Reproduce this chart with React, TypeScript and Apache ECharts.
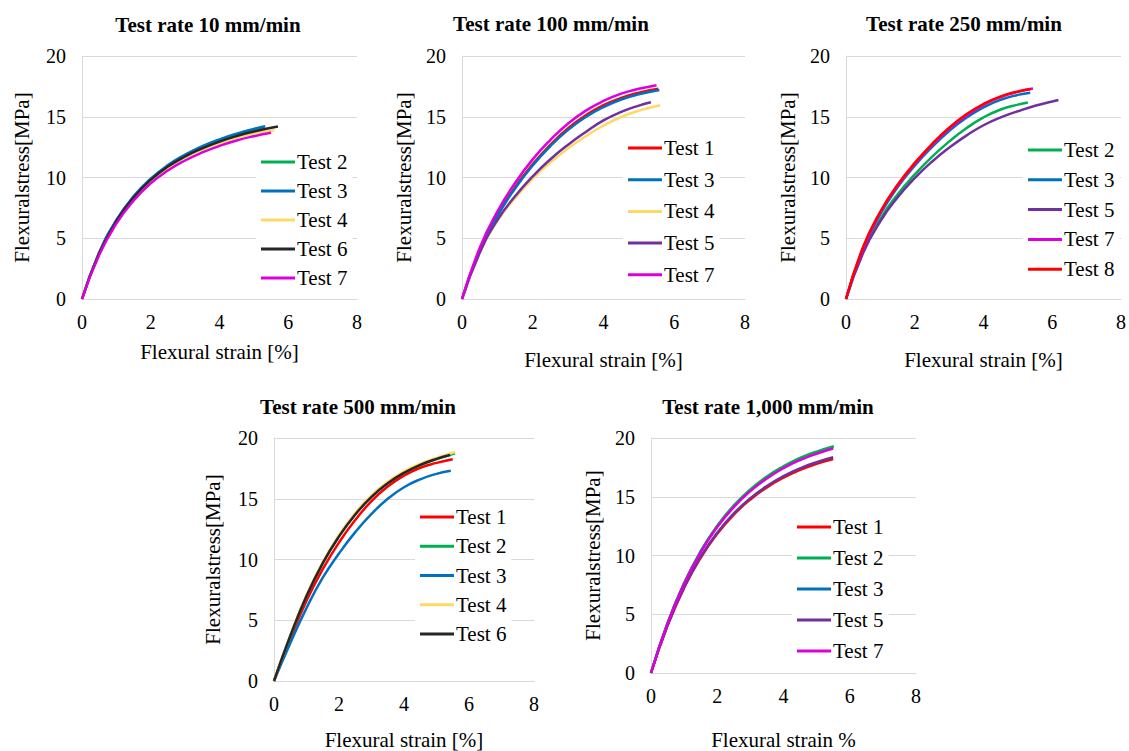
import React, { useEffect, useRef } from "react";
import * as echarts from "echarts";

// ---------- DATA (strain %, stress MPa) ----------
const xTicks = [0, 2, 4, 6, 8];
const yTicks = [0, 5, 10, 15, 20];

const titles = [
  "Test rate 10 mm/min",
  "Test rate 100 mm/min",
  "Test rate 250 mm/min",
  "Test rate 500 mm/min",
  "Test rate 1,000 mm/min",
];
const xNames = [
  "Flexural strain [%]",
  "Flexural strain [%]",
  "Flexural strain [%]",
  "Flexural strain [%]",
  "Flexural strain %",
];
const yName = "Flexuralstress[MPa]";

const halfSteps = [0, 0.5, 1, 1.5, 2, 2.5, 3, 3.5, 4, 4.5, 5];

// 10 mm/min
const r10Names = ["Test 2", "Test 3", "Test 4", "Test 6", "Test 7"];
const r10T2x = [...halfSteps, 5.3];
const r10T2y = [0, 3.8, 6.45, 8.4, 9.85, 10.97, 11.83, 12.52, 13.08, 13.55, 13.94, 14.15];
const r10T3x = [...halfSteps, 5.33];
const r10T3y = [0, 3.82, 6.5, 8.45, 9.9, 11.02, 11.88, 12.58, 13.14, 13.61, 14.0, 14.22];
const r10T4x = [...halfSteps, 5.6];
const r10T4y = [0, 3.72, 6.35, 8.28, 9.72, 10.8, 11.62, 12.28, 12.82, 13.27, 13.62, 13.9];
const r10T6x = [...halfSteps, 5.7];
const r10T6y = [0, 3.76, 6.4, 8.35, 9.8, 10.9, 11.73, 12.4, 12.95, 13.41, 13.79, 14.2];
const r10T7x = [...halfSteps, 5.5];
const r10T7y = [0, 3.62, 6.2, 8.1, 9.52, 10.58, 11.4, 12.06, 12.6, 13.05, 13.4, 13.68];

// 100 mm/min
const r100Names = ["Test 1", "Test 3", "Test 4", "Test 5", "Test 7"];
const r100T1x = [...halfSteps, 5.55];
const r100T1y = [0, 4.0, 6.9, 9.2, 11.1, 12.7, 14.05, 15.12, 15.95, 16.55, 16.98, 17.3];
const r100T3x = [...halfSteps, 5.58];
const r100T3y = [0, 3.95, 6.82, 9.1, 11.0, 12.58, 13.92, 14.98, 15.8, 16.42, 16.85, 17.2];
const r100T4x = [...halfSteps, 5.6];
const r100T4y = [0, 3.75, 6.4, 8.3, 9.9, 11.25, 12.4, 13.4, 14.28, 14.98, 15.5, 15.95];
const r100T5x = [...halfSteps, 5.34];
const r100T5y = [0, 3.8, 6.5, 8.45, 10.1, 11.5, 12.7, 13.75, 14.7, 15.4, 15.92, 16.2];
const r100T7x = [...halfSteps, 5.5];
const r100T7y = [0, 4.2, 7.2, 9.55, 11.5, 13.1, 14.45, 15.5, 16.3, 16.9, 17.3, 17.6];

// 250 mm/min
const r250Names = ["Test 2", "Test 3", "Test 5", "Test 7", "Test 8"];
const r250T2x = [...halfSteps, 5.29];
const r250T2y = [0, 3.9, 6.6, 8.6, 10.25, 11.7, 12.95, 14.05, 14.95, 15.6, 16.0, 16.17];
const r250T3x = [...halfSteps, 5.36];
const r250T3y = [0, 4.15, 7.0, 9.2, 10.98, 12.5, 13.82, 14.92, 15.78, 16.4, 16.8, 16.98];
const r250T5x = [...halfSteps, 5.5, 6.0, 6.18];
const r250T5y = [0, 3.8, 6.4, 8.35, 9.95, 11.3, 12.45, 13.45, 14.3, 14.95, 15.45, 15.9, 16.25, 16.38];
const r250T7x = [...halfSteps, 5.44];
const r250T7y = [0, 4.2, 7.1, 9.3, 11.1, 12.65, 14.0, 15.1, 15.98, 16.62, 17.05, 17.32];
const r250T8x = [...halfSteps, 5.38];
const r250T8y = [0, 4.3, 7.2, 9.4, 11.2, 12.75, 14.1, 15.2, 16.05, 16.68, 17.08, 17.28];

// 500 mm/min
const r500Names = ["Test 1", "Test 2", "Test 3", "Test 4", "Test 6"];
const r500T1x = [...halfSteps, 5.5];
const r500T1y = [0, 3.45, 6.6, 9.2, 11.4, 13.25, 14.8, 16.0, 16.9, 17.55, 17.95, 18.25];
const r500T2x = [...halfSteps, 5.57];
const r500T2y = [0, 3.7, 7.0, 9.72, 11.92, 13.73, 15.18, 16.3, 17.15, 17.78, 18.27, 18.75];
const r500T3x = [...halfSteps, 5.44];
const r500T3y = [0, 3.1, 6.0, 8.5, 10.5, 12.25, 13.75, 15.0, 15.95, 16.6, 17.05, 17.3];
const r500T4x = [...halfSteps, 5.57];
const r500T4y = [0, 3.75, 7.05, 9.78, 12.0, 13.82, 15.28, 16.4, 17.25, 17.88, 18.36, 18.85];
const r500T6x = [...halfSteps, 5.42];
const r500T6y = [0, 3.7, 7.0, 9.7, 11.9, 13.7, 15.15, 16.27, 17.13, 17.78, 18.28, 18.6];

// 1,000 mm/min
const r1000Names = ["Test 1", "Test 2", "Test 3", "Test 5", "Test 7"];
const r1000T1x = [...halfSteps, 5.5];
const r1000T1y = [0, 4.03, 7.25, 9.81, 11.85, 13.48, 14.77, 15.8, 16.63, 17.29, 17.81, 18.22];
const r1000T2x = [...halfSteps, 5.52];
const r1000T2y = [0, 4.27, 7.66, 10.37, 12.54, 14.26, 15.62, 16.72, 17.59, 18.3, 18.84, 19.3];
const r1000T3x = [...halfSteps, 5.5];
const r1000T3y = [0, 4.25, 7.62, 10.32, 12.48, 14.2, 15.56, 16.65, 17.52, 18.22, 18.76, 19.2];
const r1000T5x = [...halfSteps, 5.5];
const r1000T5y = [0, 4.07, 7.3, 9.88, 11.94, 13.58, 14.88, 15.92, 16.75, 17.42, 17.94, 18.36];
const r1000T7x = [...halfSteps, 5.5];
const r1000T7y = [0, 4.22, 7.59, 10.28, 12.42, 14.12, 15.48, 16.56, 17.43, 18.12, 18.66, 19.1];

const testColors: Record<string, string> = {
  "Test 1": "#FF0000",
  "Test 2": "#00B050",
  "Test 3": "#0070C0",
  "Test 4": "#FFD966",
  "Test 5": "#7030A0",
  "Test 6": "#262626",
  "Test 7": "#DD00DD",
  "Test 8": "#FF0000",
};

const panels = [
  { names: r10Names, xs: [r10T2x, r10T3x, r10T4x, r10T6x, r10T7x], ys: [r10T2y, r10T3y, r10T4y, r10T6y, r10T7y] },
  { names: r100Names, xs: [r100T1x, r100T3x, r100T4x, r100T5x, r100T7x], ys: [r100T1y, r100T3y, r100T4y, r100T5y, r100T7y] },
  { names: r250Names, xs: [r250T2x, r250T3x, r250T5x, r250T7x, r250T8x], ys: [r250T2y, r250T3y, r250T5y, r250T7y, r250T8y] },
  { names: r500Names, xs: [r500T1x, r500T2x, r500T3x, r500T4x, r500T6x], ys: [r500T1y, r500T2y, r500T3y, r500T4y, r500T6y] },
  { names: r1000Names, xs: [r1000T1x, r1000T2x, r1000T3x, r1000T5x, r1000T7x], ys: [r1000T1y, r1000T2y, r1000T3y, r1000T5y, r1000T7y] },
];

// ---------- LAYOUT ----------
const FONT = "Liberation Serif";
const grids = [
  { left: 82, top: 56, width: 275, height: 243 },
  { left: 462, top: 56, width: 283, height: 243 },
  { left: 846, top: 56, width: 277, height: 243 },
  { left: 274, top: 438, width: 260, height: 245 },
  { left: 651, top: 438, width: 265, height: 235 },
];
const titlePos = [
  [208, 25],
  [551, 24],
  [964, 24],
  [358, 407],
  [768, 407],
];
const yNameGaps = [50, 48, 48, 51, 48];
const xNameGaps = [42, 50, 50, 48, 56];
const legendPos = [
  { left: 261, firstRow: 162, step: 29 },
  { left: 628, firstRow: 148, step: 31.7 },
  { left: 1028, firstRow: 150, step: 29.8 },
  { left: 420, firstRow: 517, step: 29.25 },
  { left: 797, firstRow: 527, step: 31 },
];

export default function App() {
  const ref = useRef<HTMLDivElement>(null);
  useEffect(() => {
    if (!ref.current) return;
    const chart = echarts.init(ref.current, undefined, { renderer: "svg" });
    const LH = 22;
    const PAD = 5;

    const series: any[] = [];
    panels.forEach((p, gi) => {
      p.names.forEach((name, si) => {
        series.push({
          type: "line",
          name,
          xAxisIndex: gi,
          yAxisIndex: gi,
          data: p.xs[si].map((x, k) => [x, p.ys[si][k]]),
          smooth: 0.5,
          showSymbol: false,
          symbol: "none",
          color: testColors[name],
          lineStyle: { width: 2.5, color: testColors[name] },
          z: gi === 4 && name === "Test 3" ? 1 : 2,
        });
      });
    });

    const txt = (size: number) => ({ fontFamily: FONT, fontSize: size, color: "#000" });

    const option: any = {
      animation: false,
      backgroundColor: "#ffffff",
      textStyle: { fontFamily: FONT },
      grid: grids.map((g) => ({ ...g, containLabel: false })),
      xAxis: grids.map((_, i) => ({
        type: "value",
        gridIndex: i,
        min: xTicks[0],
        max: xTicks[xTicks.length - 1],
        interval: 2,
        name: xNames[i],
        nameLocation: "middle",
        nameGap: xNameGaps[i],
        nameTextStyle: txt(21),
        axisLine: { show: true, lineStyle: { color: "#D9D9D9", width: 1 } },
        axisTick: { show: false },
        splitLine: { show: false },
        axisLabel: { ...txt(20), margin: 13 },
      })),
      yAxis: grids.map((_, i) => ({
        type: "value",
        gridIndex: i,
        min: yTicks[0],
        max: yTicks[yTicks.length - 1],
        interval: 5,
        name: yName,
        nameLocation: "middle",
        nameGap: yNameGaps[i],
        nameTextStyle: txt(21),
        axisLine: { show: true, lineStyle: { color: "#D9D9D9", width: 1 } },
        axisTick: { show: false },
        splitLine: { show: true, lineStyle: { color: "#D9D9D9", width: 1 } },
        axisLabel: { ...txt(20), margin: 16 },
      })),
      legend: panels.map((p, i) => ({
        orient: "vertical",
        left: legendPos[i].left - PAD,
        top: legendPos[i].firstRow - LH / 2 - PAD,
        padding: PAD,
        backgroundColor: "#ffffff",
        itemGap: legendPos[i].step - LH,
        itemWidth: 34,
        itemHeight: 3,
        icon: "rect",
        selectedMode: false,
        data: p.names.map((n) => ({ name: n, itemStyle: { color: testColors[n] } })),
        textStyle: { ...txt(21), lineHeight: LH, padding: [0, 0, 0, -3] },
      })),
      graphic: titles.map((t, i) => ({
        type: "text",
        x: titlePos[i][0],
        y: titlePos[i][1],
        style: {
          text: t,
          fontFamily: FONT,
          fontSize: 21,
          fontWeight: "bold",
          fill: "#000",
          textAlign: "center",
          textVerticalAlign: "middle",
        },
      })),
      series,
    };
    chart.setOption(option);
    return () => chart.dispose();
  }, []);

  return (
    <div
      ref={ref}
      style={{ position: "absolute", left: 0, top: 0, width: 1129, height: 751, background: "#fff" }}
    />
  );
}
